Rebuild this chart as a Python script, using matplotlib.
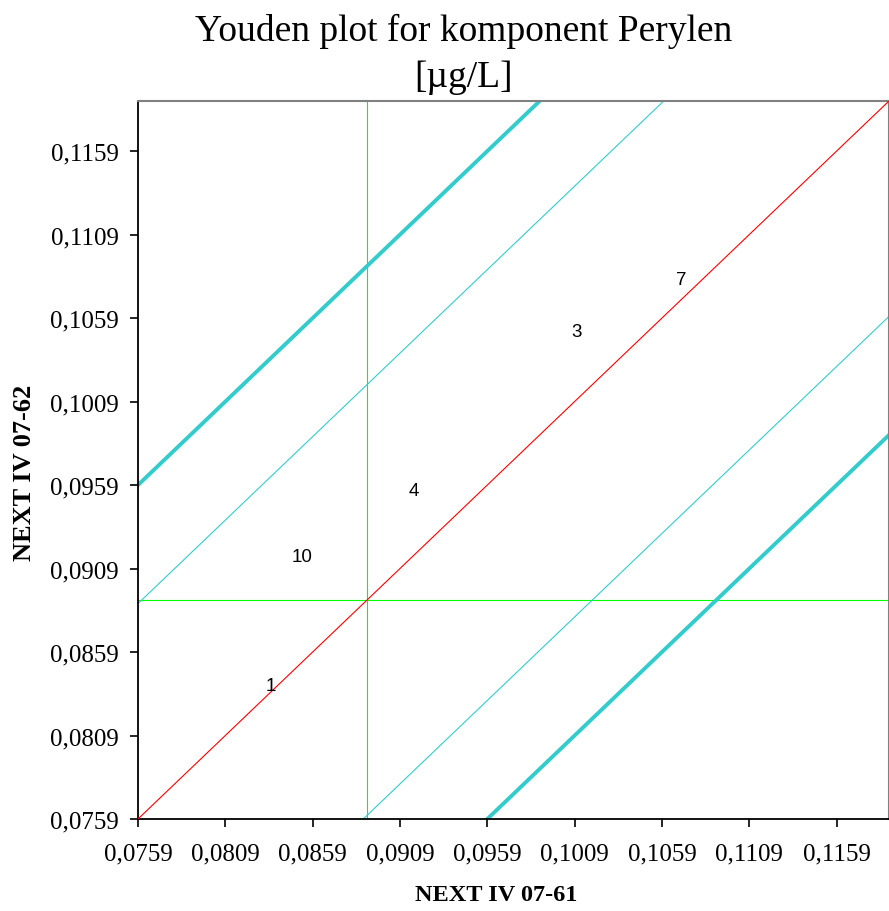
import matplotlib
matplotlib.use("Agg")
import matplotlib.pyplot as plt
import numpy as np

# Youden plot - Perylen
lab_ids = ["1", "10", "4", "3", "7"]
x_vals = [0.0835, 0.0853, 0.0917, 0.1010, 0.1070]
y_vals = [0.0839, 0.0916, 0.0956, 0.1051, 0.1082]

center = 0.0890
limits = [0.0759, 0.1189]
tick_vals = [0.0759, 0.0809, 0.0859, 0.0909, 0.0959, 0.1009, 0.1059, 0.1109, 0.1159]
tick_labels = ["0,0759", "0,0809", "0,0859", "0,0909", "0,0959", "0,1009", "0,1059", "0,1109", "0,1159"]
thin_offset = 0.0129
thick_offset = 0.0200

serif = "Liberation Serif"

fig = plt.figure(figsize=(8.89, 9.12), dpi=100)
ax = fig.add_axes([138/889, 1-820/912, 751/889, 718/912])

xx = np.array(limits)
# y = x  (rød)
ax.plot(xx, xx, color="#FF0000", lw=0.8, zorder=3)
for off in (thin_offset, -thin_offset):
    ax.plot(xx, xx + off, color="#33CCCC", lw=0.8, zorder=2)
for off in (thick_offset, -thick_offset):
    ax.plot(xx, xx + off, color="#33CCCC", lw=2.8, zorder=2)
ax.axvline(center, color="#00FF00", lw=0.8, zorder=1)
ax.axhline(center, color="#00FF00", lw=0.8, zorder=1)

for t, xv, yv in zip(lab_ids, x_vals, y_vals):
    ax.text(xv, yv, t, ha="center", va="center", fontsize=13.5,
            family="Liberation Sans", zorder=4)

ax.set_xlim(limits)
ax.set_ylim(limits)
ax.set_xticks(tick_vals)
ax.set_xticklabels(tick_labels, family=serif, fontsize=18)
ax.set_yticks(tick_vals)
ax.set_yticklabels(tick_labels, family=serif, fontsize=18)
ax.tick_params(direction="out", length=6, width=1.2, pad=8)
ax.tick_params(axis="x", pad=11)

for s in ("left", "bottom"):
    ax.spines[s].set_color("black")
    ax.spines[s].set_linewidth(1.3)
for s in ("top", "right"):
    ax.spines[s].set_color("#808080")
    ax.spines[s].set_linewidth(1.5)

fig.text(0.521, 0.966, "Youden plot for komponent Perylen", ha="center", va="center",
         family=serif, fontsize=27)
fig.text(0.521, 0.915, "[\u00b5g/L]", ha="center", va="center", family=serif, fontsize=27)
fig.text(0.558, 0.007, "NEXT IV 07-61", ha="center", va="bottom", family=serif,
         fontsize=17.5, fontweight="bold")
fig.text(0.027, 0.482, "NEXT IV 07-62", ha="center", va="center", rotation=90,
         family=serif, fontsize=19, fontweight="bold")

fig.savefig("out.png", dpi=100)
